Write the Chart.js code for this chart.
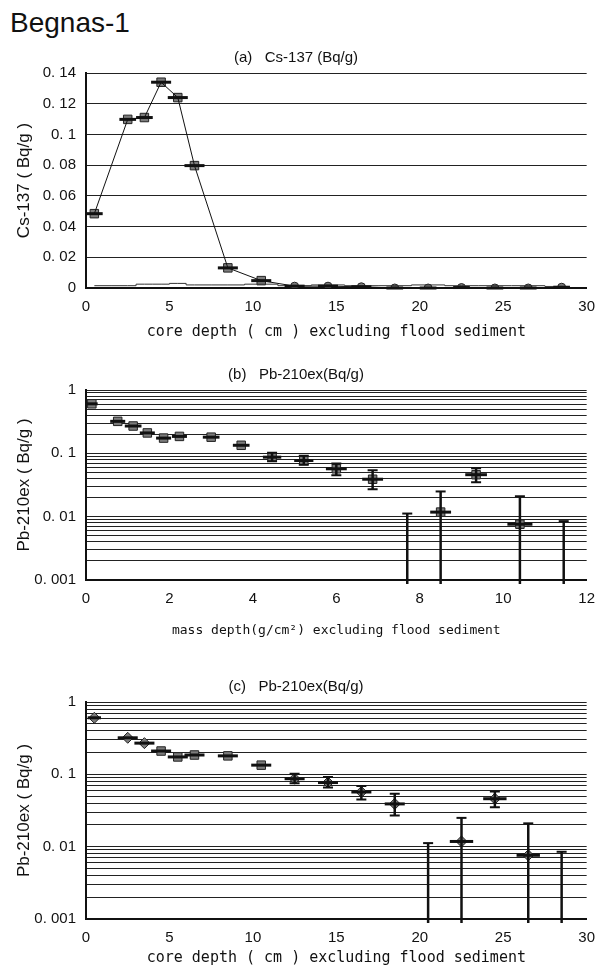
<!DOCTYPE html>
<html>
<head>
<meta charset="utf-8">
<script src="https://cdn.jsdelivr.net/npm/chart.js@4.4.0/dist/chart.umd.min.js"></script>
<style>
    body { margin: 0; background: #fff; width: 605px; height: 968px; position: relative; overflow: hidden; }
    #siteName { position: absolute; left: 10px; top: 7px; font: 28px "Liberation Sans", Arial, sans-serif; color: #111; }
    canvas { position: absolute; left: 0; }
</style>
</head>
<body>
<div id="siteName">Begnas-1</div>
<canvas id="chartA" width="605" height="300" style="top:44px"></canvas>
<canvas id="chartB" width="605" height="300" style="top:350px"></canvas>
<canvas id="chartC" width="605" height="300" style="top:668px"></canvas>

<script>
// (a) Cs-137 by core depth
const csDepth = [0.5, 2.5, 3.5, 4.5, 5.5, 6.5, 8.5, 10.5, 12.5, 14.5, 16.5, 18.5, 20.5, 22.5, 24.5, 26.5, 28.5];
const csValue = [0.0484, 0.1098, 0.111, 0.134, 0.124, 0.0797, 0.0131, 0.0048, 0.0012, 0.0012, 0.0008, 0, 0, 0.0003, 0, 0, 0.0005];
const csDepthErr = [0.5, 0.5, 0.5, 0.6, 0.6, 0.6, 0.6, 0.6, 0.6, 0.6, 0.6, 0.5, 0.5, 0.5, 0.5, 0.5, 0.5];
const csLimit = [0.0015, 0.0015, 0.0025, 0.0025, 0.003, 0.002, 0.002, 0.0025, 0.0015, 0.002, 0.0015, 0.0015, 0.002, 0.0015, 0.0015, 0.0015, 0.001];
const csTicksX = [0, 30, 5];
const csTicksY = [0, 0.14, 0.02];

// (b), (c) Pb-210ex
const pbMassDepth = [0.14, 0.76, 1.13, 1.47, 1.86, 2.24, 3.0, 3.72, 4.46, 5.22, 6.0, 6.87, 7.7, 8.5, 9.35, 10.4, 11.45];
const pbMassErr = [0.14, 0.18, 0.2, 0.18, 0.18, 0.18, 0.2, 0.2, 0.22, 0.23, 0.25, 0.25, 0, 0.25, 0.26, 0.3, 0];
const pbCoreDepth = [0.5, 2.5, 3.5, 4.5, 5.5, 6.5, 8.5, 10.5, 12.5, 14.5, 16.5, 18.5, 20.5, 22.5, 24.5, 26.5, 28.5];
const pbCoreErr = [0.4, 0.6, 0.6, 0.6, 0.6, 0.6, 0.6, 0.6, 0.6, 0.6, 0.6, 0.6, 0, 0.7, 0.7, 0.7, 0];
const pbValue = [0.605, 0.32, 0.27, 0.21, 0.174, 0.185, 0.18, 0.134, 0.087, 0.077, 0.057, 0.039, null, 0.0118, 0.046, 0.0076, null];
const pbLow = [null, null, null, null, null, null, null, null, 0.075, 0.066, 0.045, 0.027, 0.0008, 0.0008, 0.035, 0.0008, 0.0008];
const pbHigh = [null, null, null, null, null, null, null, null, 0.102, 0.092, 0.069, 0.054, 0.0112, 0.025, 0.058, 0.021, 0.0085];
const logDecades = [0.001, 0.01, 0.1, 1];
const logSteps = [1, 2, 3, 4, 5, 6, 7, 8, 9];

const tickFont = { family: "'Liberation Sans', Arial, sans-serif", size: 15 };
const monoFont = "'DejaVu Sans Mono', monospace";

function fmtNumber(v) {
    var s = String(parseFloat(v.toFixed(4)));
    return s.replace('.', '. ');
}

// draws horizontal / vertical error bars from the plugin options
const errorBars = {
    id: 'errorBars',
    afterDatasetsDraw: function (chart, args, opts) {
        if (!opts.x) return;
        const ctx = chart.ctx;
        const xs = chart.scales.x;
        const ys = chart.scales.y;
        const area = chart.chartArea;
        ctx.save();
        ctx.strokeStyle = '#111';
        for (var i = 0; i < opts.x.length; i++) {
            var px = xs.getPixelForValue(opts.x[i]);
            if (opts.y[i] !== null && opts.xErr[i] > 0) {
                var py = ys.getPixelForValue(opts.y[i]);
                ctx.lineWidth = 3;
                ctx.beginPath();
                ctx.moveTo(xs.getPixelForValue(opts.x[i] - opts.xErr[i]), py);
                ctx.lineTo(xs.getPixelForValue(opts.x[i] + opts.xErr[i]), py);
                ctx.stroke();
            }
            if (opts.lo && opts.lo[i] !== null) {
                var top = ys.getPixelForValue(opts.hi[i]);
                var bot = Math.min(ys.getPixelForValue(opts.lo[i]), area.bottom + 4);
                ctx.lineWidth = 2.5;
                ctx.beginPath();
                ctx.moveTo(px, top);
                ctx.lineTo(px, bot);
                ctx.stroke();
                ctx.lineWidth = 2;
                ctx.beginPath();
                ctx.moveTo(px - 5, top);
                ctx.lineTo(px + 5, top);
                if (bot < area.bottom) {
                    ctx.moveTo(px - 5, bot);
                    ctx.lineTo(px + 5, bot);
                }
                ctx.stroke();
            }
        }
        ctx.restore();
        // redraw markers on top of the bars
        chart.getSortedVisibleDatasetMetas().forEach(function (meta) {
            if (meta.dataset && meta.dataset.options.borderWidth === 0) {
                meta.data.forEach(function (pt) { if (!pt.skip) pt.draw(ctx, area); });
            }
        });
    }
};

function logTickList() {
    var list = [];
    logDecades.forEach(function (d, k) {
        logSteps.forEach(function (m) {
            if (k < logDecades.length - 1 || m === 1) list.push({ value: parseFloat((d * m).toPrecision(3)) });
        });
    });
    return list;
}

function xAxis(range, title, titleFont, height, padBottom) {
    return {
        type: 'linear',
        min: range[0],
        max: range[1],
        ticks: { stepSize: range[2], color: '#111', font: tickFont, padding: 10 },
        grid: { display: false, drawTicks: false },
        border: { display: true, color: '#111', width: 2 },
        title: { display: true, text: title, color: '#111', font: titleFont, padding: { top: 0, bottom: padBottom } },
        afterFit: function (scale) { scale.height = height; }
    };
}

function logYAxis() {
    return {
        type: 'logarithmic',
        min: 0.001,
        max: 1,
        afterBuildTicks: function (scale) { scale.ticks = logTickList(); },
        ticks: {
            color: '#111', font: tickFont, padding: 10, autoSkip: false,
            callback: function (v) {
                var l = Math.log10(v);
                return Math.abs(l - Math.round(l)) < 1e-6 ? fmtNumber(v) : '';
            }
        },
        grid: { color: '#222', lineWidth: 1, drawTicks: false },
        border: { display: true, color: '#111', width: 2 },
        title: { display: true, text: 'Pb-210ex ( Bq/g )', color: '#111', font: { family: tickFont.family, size: 17 }, padding: { top: 14 } },
        afterFit: function (scale) { scale.width = 86; }
    };
}

function chartTitle(text, padTop) {
    return {
        display: true, text: text, color: '#111',
        font: { family: "'Liberation Sans', Arial, sans-serif", size: 15, weight: 'normal' },
        padding: { top: padTop, bottom: 6 }
    };
}

function drawChartA() {
    const points = csDepth.map(function (x, i) { return { x: x, y: csValue[i] }; });
    const limit = csDepth.map(function (x, i) { return { x: x, y: csLimit[i] }; });
    new Chart(document.getElementById('chartA'), {
        type: 'scatter',
        data: {
            datasets: [{
                data: limit,
                showLine: true,
                stepped: 'middle',
                borderColor: '#333',
                borderWidth: 1,
                pointRadius: 0
            }, {
                data: points,
                showLine: true,
                borderColor: '#111',
                borderWidth: 1,
                pointRadius: 0
            }, {
                data: points,
                showLine: false,
                borderWidth: 0,
                pointStyle: function (c) { return c.dataIndex < 8 ? 'rect' : 'circle'; },
                pointRadius: function (c) { return c.dataIndex < 8 ? 6 : 4; },
                pointBackgroundColor: '#7c7c7c',
                pointBorderColor: '#222',
                pointBorderWidth: 1
            }]
        },
        options: {
            responsive: false,
            animation: false,
            layout: { padding: { left: 0, right: 13, top: 0, bottom: 0 } },
            plugins: {
                legend: { display: false },
                tooltip: { enabled: false },
                title: chartTitle('(a)   Cs-137 (Bq/g)', 5),
                errorBars: { x: csDepth, y: csValue, xErr: csDepthErr }
            },
            scales: {
                x: xAxis(csTicksX, 'core depth ( cm ) excluding flood sediment', { family: monoFont, size: 15 }, 56, 3),
                y: {
                    type: 'linear',
                    min: csTicksY[0],
                    max: csTicksY[1],
                    ticks: { stepSize: csTicksY[2], color: '#111', font: tickFont, padding: 10, callback: fmtNumber },
                    grid: { color: '#222', lineWidth: 1, drawTicks: false },
                    border: { display: true, color: '#111', width: 2 },
                    title: { display: true, text: 'Cs-137 ( Bq/g )', color: '#111', font: { family: tickFont.family, size: 17 }, padding: { top: 14 } },
                    afterFit: function (scale) { scale.width = 86; }
                }
            }
        },
        plugins: [errorBars]
    });
}

function drawPbChart(id, depth, depthErr, range, titleText, xTitle, xTitleFont, padTop, axisHeight, padBottom, shapeFn) {
    const points = depth.map(function (x, i) { return { x: x, y: pbValue[i] }; });
    new Chart(document.getElementById(id), {
        type: 'scatter',
        data: {
            datasets: [{
                data: points,
                showLine: false,
                borderWidth: 0,
                pointStyle: shapeFn,
                pointRadius: function (c) { return shapeFn(c) === 'rect' ? 6 : 5.5; },
                pointBackgroundColor: '#7c7c7c',
                pointBorderColor: '#222',
                pointBorderWidth: 1
            }]
        },
        options: {
            responsive: false,
            animation: false,
            layout: { padding: { left: 0, right: 13, top: padTop, bottom: 0 } },
            plugins: {
                legend: { display: false },
                tooltip: { enabled: false },
                title: chartTitle(titleText, 5),
                errorBars: { x: depth, y: pbValue, xErr: depthErr, lo: pbLow, hi: pbHigh }
            },
            scales: {
                x: xAxis(range, xTitle, xTitleFont, axisHeight, padBottom),
                y: logYAxis()
            }
        },
        plugins: [errorBars]
    });
}

document.addEventListener('DOMContentLoaded', function () {
    drawChartA();
    drawPbChart('chartB', pbMassDepth, pbMassErr, [0, 12, 2], '(b)   Pb-210ex(Bq/g)',
        'mass depth(g/cm²) excluding flood sediment', { family: monoFont, size: 13 }, 11, 70, 12,
        function () { return 'rect'; });
    drawPbChart('chartC', pbCoreDepth, pbCoreErr, [0, 30, 5], '(c)   Pb-210ex(Bq/g)',
        'core depth ( cm ) excluding flood sediment', { family: monoFont, size: 15 }, 5, 49, 1,
        function (c) { return (c.dataIndex < 3 || c.dataIndex > 7) ? 'rectRot' : 'rect'; });
});
</script>
</body>
</html>
